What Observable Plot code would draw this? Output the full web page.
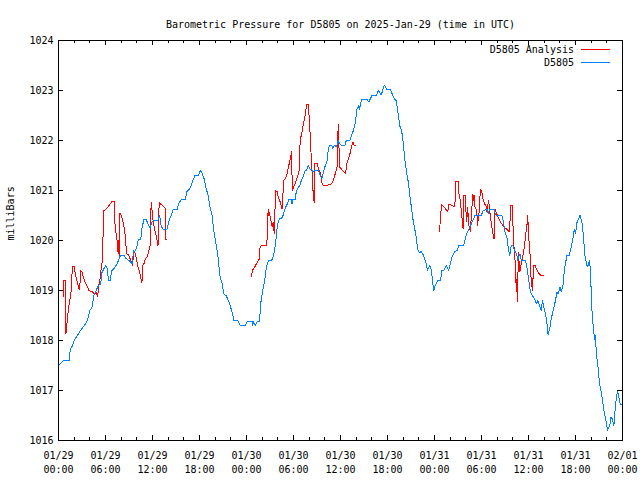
<!DOCTYPE html>
<html>
<head>
<meta charset="utf-8">
<script src="https://cdn.jsdelivr.net/npm/d3@7"></script>
<script src="https://cdn.jsdelivr.net/npm/@observablehq/plot@0.6"></script>
<style>
  html, body { margin: 0; padding: 0; background: #fff; }
  svg text { font-family: "DejaVu Sans Mono", "Liberation Mono", monospace; }
</style>
</head>
<body>
<div id="chart"></div>
<script>
// ---- Data (hours since 2025-01-29 00:00 UTC, pressure in mbar) ----
const titleText = "Barometric Pressure for D5805 on 2025-Jan-29 (time in UTC)";
const yLabel = "milliBars";
const seriesNames = ["D5805 Analysis", "D5805"];
const seriesColors = ["#ff0000", "#0080ff"];

const blueHours = [0,0.6,1.4,1.5,1.8,2.0,2.4,2.8,3.3,3.7,4.0,4.3,4.5,4.8,5.1,5.4,5.5,5.8,6.05,6.2,6.4,6.6,6.8,7.1,7.5,7.9,8.4,8.6,9.0,9.4,9.6,9.7,10.0,10.2,10.5,10.65,10.9,11.2,11.4,11.7,11.9,12.2,12.7,12.9,13.1,13.3,13.9,14.05,14.3,14.65,15.2,15.3,15.7,16.2,16.35,16.7,16.95,17.2,17.45,17.9,18.1,18.3,18.6,18.8,19.1,19.3,19.6,19.85,20.1,20.35,20.6,20.9,21.1,21.4,21.6,21.9,22.15,22.4,22.9,23.2,23.85,24.1,24.7,24.8,24.9,25.15,25.4,25.7,25.75,25.9,26.1,26.3,26.45,26.6,26.8,27.2,27.4,27.55,27.7,27.9,28.05,28.2,28.5,28.7,28.9,29.2,29.4,29.7,29.8,29.9,30.2,30.3,30.5,30.8,31.0,31.3,31.5,31.7,31.9,32.05,32.3,32.5,32.7,33.2,33.3,33.4,33.6,33.7,34.0,34.3,34.45,34.6,34.9,35.0,35.2,35.5,35.7,35.9,36.1,36.6,36.75,37.2,37.35,37.6,37.85,37.95,38.1,38.3,38.4,38.7,39.4,39.6,39.8,40.05,40.6,40.8,41.0,41.2,41.6,41.85,42.4,42.6,42.9,43.1,43.4,43.55,43.8,44.0,44.2,44.4,44.65,44.8,45.1,45.3,45.6,45.85,46.1,46.3,46.6,46.9,47.1,47.4,47.6,47.8,47.9,48.1,48.4,48.8,48.9,49.2,49.5,49.8,50.0,50.3,50.6,50.9,51.1,51.7,52.0,52.2,52.4,52.6,52.9,53.2,54.0,54.2,54.7,54.9,55.0,55.6,55.8,56.6,56.75,57.0,57.3,57.4,57.6,57.8,58.0,58.2,58.5,58.6,58.9,59.1,59.6,59.8,60.0,60.25,60.5,60.75,60.9,61.0,61.2,61.4,61.6,61.8,61.9,62.2,62.4,62.5,62.7,62.9,63.1,63.4,63.65,63.8,64.0,64.2,64.4,64.6,64.9,65.2,65.45,65.7,65.85,66.0,66.2,66.5,66.6,66.85,67.0,67.2,67.5,67.6,67.8,67.9,68.1,68.3,68.45,68.5,68.75,68.9,69.05,69.35,69.6,69.85,70.1,70.4,70.5,70.7,70.9,71.1,71.35,71.5,71.7,72.0];
const bluePressure = [1017.5,1017.6,1017.6,1017.83,1017.9,1018.0,1018.1,1018.2,1018.3,1018.4,1018.6,1018.67,1018.9,1019.0,1019.1,1019.13,1019.34,1019.44,1019.5,1019.44,1019.2,1019.2,1019.4,1019.44,1019.54,1019.7,1019.7,1019.64,1019.6,1019.54,1019.8,1019.77,1019.87,1020.02,1020.02,1020.24,1020.42,1020.42,1020.34,1020.24,1020.37,1020.4,1020.4,1020.5,1020.3,1020.23,1020.23,1020.37,1020.47,1020.62,1020.62,1020.73,1020.82,1020.82,1020.97,1021.03,1021.1,1021.22,1021.31,1021.31,1021.4,1021.36,1021.23,1021.07,1020.9,1020.7,1020.5,1020.17,1019.93,1019.7,1019.3,1019.13,1018.93,1018.9,1018.83,1018.71,1018.57,1018.4,1018.4,1018.3,1018.3,1018.39,1018.39,1018.3,1018.37,1018.3,1018.39,1018.39,1018.67,1018.83,1019.03,1019.17,1019.37,1019.5,1019.6,1019.6,1019.67,1019.77,1019.93,1020.23,1020.37,1020.43,1020.45,1020.51,1020.63,1020.73,1020.82,1020.82,1020.73,1020.82,1020.82,1020.93,1021.03,1021.1,1021.2,1021.3,1021.41,1021.41,1021.51,1021.43,1021.43,1021.37,1021.41,1021.41,1021.35,1021.31,1021.23,1021.3,1021.47,1021.6,1021.83,1021.91,1021.91,1021.83,1021.9,1021.88,1022.0,1021.93,1021.91,1021.91,1022.01,1022.01,1022.07,1022.18,1022.33,1022.43,1022.62,1022.7,1022.62,1022.82,1022.82,1022.77,1022.83,1022.91,1022.91,1023.0,1022.97,1022.91,1023.11,1023.03,1023.02,1022.93,1022.83,1022.8,1022.5,1022.3,1022.2,1021.97,1021.63,1021.4,1021.17,1020.97,1020.6,1020.37,1020.13,1019.83,1019.75,1019.78,1019.7,1019.57,1019.4,1019.5,1019.4,1019.13,1019.0,1019.1,1019.2,1019.2,1019.4,1019.4,1019.5,1019.4,1019.53,1019.7,1019.78,1019.8,1019.9,1019.9,1020.07,1020.17,1020.23,1020.3,1020.4,1020.51,1020.51,1020.6,1020.62,1020.53,1020.62,1020.62,1020.51,1020.51,1020.4,1020.17,1020.03,1019.87,1019.7,1019.9,1019.9,1019.8,1019.73,1019.6,1019.73,1019.6,1019.6,1019.47,1019.23,1018.97,1018.9,1018.83,1018.78,1018.73,1018.8,1018.7,1018.6,1018.8,1018.7,1018.5,1018.3,1018.11,1018.23,1018.43,1018.57,1018.77,1018.97,1018.93,1019.07,1018.97,1019.11,1019.43,1019.7,1019.7,1019.87,1020.07,1020.23,1020.13,1020.37,1020.47,1020.51,1020.33,1020.1,1019.7,1019.47,1019.5,1019.6,1019.4,1018.6,1018.2,1018.02,1018.1,1017.63,1017.43,1017.17,1016.9,1016.63,1016.43,1016.2,1016.33,1016.47,1016.43,1016.3,1016.7,1017.0,1016.9,1016.73,1016.73];

// null marks a gap in the analysis series
const redHours = [0.6,0.65,0.85,0.86,1.0,1.1,1.3,1.45,1.6,1.7,1.8,2.0,2.1,2.3,2.5,2.65,2.75,2.8,3.0,3.15,3.4,3.7,3.9,4.35,4.6,4.85,5.0,5.1,5.3,5.4,5.55,5.6,5.8,5.9,6.1,6.4,6.6,6.8,7.1,7.15,7.3,7.5,7.6,7.65,7.75,7.85,8.0,8.2,8.35,8.5,8.7,8.9,9.1,9.3,9.45,9.6,9.75,9.95,10.1,10.3,10.45,10.65,10.75,10.9,11.1,11.3,11.5,11.7,11.75,11.85,11.9,12.0,12.1,12.25,12.45,12.6,12.7,12.85,13.0,13.3,13.6,13.7,13.85,
  14.0,
  24.65,24.75,24.9,25.15,25.4,25.6,25.65,25.85,26.2,26.6,26.7,26.8,26.85,26.9,27.1,27.3,27.4,27.55,27.6,27.7,27.9,28.05,28.3,28.55,28.65,28.75,29.0,29.2,29.35,29.5,29.65,29.75,29.85,30.0,30.2,30.4,30.7,30.8,30.85,31.0,31.2,31.4,31.55,31.7,31.9,32.1,32.2,32.3,32.4,32.55,32.65,32.7,33.0,33.2,33.4,33.5,33.6,33.8,34.2,34.4,34.8,35.0,35.2,35.4,35.55,35.6,35.7,35.8,35.9,36.15,36.4,36.65,36.8,37.0,37.2,37.4,37.6,37.75,37.9,
  38.0,
  48.65,48.75,48.9,49.2,49.4,49.7,49.85,50.1,50.4,50.6,50.7,51.0,51.05,51.2,51.4,51.5,51.55,51.65,51.7,51.9,52.0,52.1,52.25,52.3,52.4,52.6,52.65,52.9,53.0,53.05,53.1,53.3,53.45,53.5,53.6,53.7,53.8,53.9,54.1,54.2,54.4,54.6,54.7,54.8,54.9,55.0,55.05,55.1,55.3,55.5,55.6,55.7,55.85,56.1,56.3,56.6,56.85,57.2,57.4,57.6,57.7,57.9,58.0,58.1,58.3,58.45,58.5,58.6,58.7,58.75,58.85,58.9,59.1,59.3,59.5,59.6,59.8,59.9,60.0,60.1,60.25,60.3,60.5,60.55,60.6,60.7,60.9,61.0,61.3,61.6,61.95];
const redPressure = [1018.87,1019.2,1019.2,1018.13,1018.17,1018.37,1018.67,1018.8,1018.97,1019.27,1019.48,1019.48,1019.37,1019.23,1019.1,1019.02,1019.15,1019.4,1019.37,1019.27,1019.17,1019.07,1019.0,1018.97,1018.93,1018.95,1018.87,1019.07,1019.23,1019.38,1019.53,1019.67,1020.6,1020.6,1020.63,1020.69,1020.73,1020.78,1020.78,1020.43,1020.2,1019.97,1019.77,1020.0,1019.63,1020.55,1020.5,1020.4,1020.29,1020.13,1019.73,1019.72,1019.65,1019.57,1019.5,1019.78,1019.77,1019.63,1019.5,1019.4,1019.3,1019.15,1019.5,1019.53,1019.63,1019.67,1019.77,1019.9,1020.47,1020.77,1020.67,1020.5,1020.37,1020.23,1020.1,1020.0,1019.89,1020.77,1020.73,1020.7,1020.65,1020.02,1020.02,
  null,
  1019.27,1019.43,1019.43,1019.5,1019.57,1019.62,1019.83,1019.89,1019.9,1019.91,1020.47,1020.63,1020.5,1020.57,1020.4,1020.27,1020.37,1020.13,1020.37,1021.0,1020.98,1020.87,1020.77,1020.63,1020.91,1021.2,1021.25,1021.35,1021.47,1021.57,1021.67,1021.78,1021.0,1021.07,1021.13,1021.23,1021.37,1021.7,1022.03,1022.1,1022.27,1022.43,1022.57,1022.73,1022.73,1022.2,1021.83,1021.63,1021.23,1020.85,1020.75,1021.55,1021.55,1021.43,1021.37,1021.3,1021.17,1021.09,1021.1,1021.11,1021.13,1021.17,1021.27,1021.37,1021.47,1021.57,1022.33,1021.9,1021.47,1021.42,1021.38,1021.33,1021.53,1021.63,1021.73,1021.87,1021.97,1021.9,1021.9,
  null,
  1020.17,1020.45,1020.71,1020.68,1020.63,1020.58,1020.73,1020.71,1020.69,1020.67,1021.19,1021.19,1020.97,1020.9,1020.63,1020.47,1020.37,1020.23,1020.9,1020.9,1020.63,1020.37,1020.67,1020.47,1020.3,1020.17,1020.37,1020.93,1020.8,1020.9,1020.7,1020.63,1020.47,1020.3,1020.47,1020.57,1020.87,1021.02,1020.93,1020.83,1020.73,1020.69,1020.57,1020.7,1020.8,1020.67,1020.63,1020.51,1020.3,1020.1,1020.03,1020.63,1020.57,1020.47,1020.4,1020.33,1020.27,1020.23,1020.2,1020.17,1020.71,1020.71,1020.37,1019.97,1019.57,1018.97,1019.23,1018.77,1019.77,1019.37,1019.57,1019.37,1019.57,1019.7,1019.9,1020.07,1020.3,1020.5,1020.17,1019.9,1019.63,1019.3,1019.0,1019.17,1019.3,1019.51,1019.5,1019.43,1019.35,1019.3,1019.3];

// ---- Axis ticks ----
const xDomain = [0, 72];
const yDomain = [1016, 1024];
const xMajorTicks = [0, 6, 12, 18, 24, 30, 36, 42, 48, 54, 60, 66, 72];
const xTickDates = ["01/29","01/29","01/29","01/29","01/30","01/30","01/30","01/30","01/31","01/31","01/31","01/31","02/01"];
const xTickTimes = ["00:00","06:00","12:00","18:00","00:00","06:00","12:00","18:00","00:00","06:00","12:00","18:00","00:00"];
const xMinorTicks = d3.range(0, 73, 2).filter(h => h % 6 !== 0);
const yTicks = [1016, 1017, 1018, 1019, 1020, 1021, 1022, 1023, 1024];

// ---- Build tables ----
const blue = blueHours.map((h, i) => ({h, p: bluePressure[i]}));
const red = redHours.map((h, i) => ({h, p: redPressure[i]}));
const xMajor = xMajorTicks.map((h, i) => ({h, date: xTickDates[i], time: xTickTimes[i]}));

const FONT = '"DejaVu Sans Mono", "Liberation Mono", monospace';
const crisp = {shapeRendering: "crispEdges"};

// Legend drawn relative to the frame
function legend(index, scales, values, dim) {
  const g = d3.create("svg:g");
  const right = dim.width - dim.marginRight;
  seriesNames.forEach((name, i) => {
    const y = dim.marginTop + 9.5 + i * 13;
    g.append("text")
      .attr("x", right - 48).attr("y", y)
      .attr("text-anchor", "end").attr("dy", "0.32em")
      .attr("font-family", FONT).attr("font-size", 10).attr("fill", "black")
      .text(name);
    g.append("line")
      .attr("x1", right - 41).attr("x2", right - 12)
      .attr("y1", y).attr("y2", y)
      .attr("stroke", seriesColors[i]).attr("stroke-width", 1)
      .attr("shape-rendering", "crispEdges");
  });
  return g.node();
}

const plot = Plot.plot({
  width: 640,
  height: 480,
  marginLeft: 58,
  marginRight: 18,
  marginTop: 40,
  marginBottom: 40,
  style: {fontFamily: FONT, fontSize: "10px", background: "white", color: "black"},
  x: {domain: xDomain, axis: null},
  y: {domain: yDomain, axis: null},
  marks: [
    // data
    Plot.line(red, {x: "h", y: "p", stroke: seriesColors[0], strokeWidth: 1, ...crisp}),
    Plot.line(blue, {x: "h", y: "p", stroke: seriesColors[1], strokeWidth: 1, ...crisp}),
    // frame
    Plot.frame({stroke: "black", strokeWidth: 1, ...crisp}),
    // x ticks (bottom & top, inward)
    Plot.ruleX(xMajorTicks, {x: d => d, y1: 1016, y2: 1016, insetBottom: 5, stroke: "black", ...crisp}),
    Plot.ruleX(xMajorTicks, {x: d => d, y1: 1024, y2: 1024, insetBottom: -5, stroke: "black", ...crisp}),
    Plot.ruleX(xMinorTicks, {x: d => d, y1: 1016, y2: 1016, insetBottom: 3, stroke: "black", ...crisp}),
    Plot.ruleX(xMinorTicks, {x: d => d, y1: 1024, y2: 1024, insetBottom: -3, stroke: "black", ...crisp}),
    // y ticks (left & right, inward)
    Plot.ruleY(yTicks, {y: d => d, x1: 0, x2: 0, insetRight: -5, stroke: "black", ...crisp}),
    Plot.ruleY(yTicks, {y: d => d, x1: 72, x2: 72, insetLeft: -5, stroke: "black", ...crisp}),
    // tick labels
    Plot.text(yTicks, {x: 0, y: d => d, text: d => String(d), textAnchor: "end", dx: -5, fill: "black"}),
    Plot.text(xMajor, {x: "h", y: 1016, text: "date", dy: 15, fill: "black"}),
    Plot.text(xMajor, {x: "h", y: 1016, text: "time", dy: 29, fill: "black"}),
    // title
    Plot.text([titleText], {frameAnchor: "top", dy: -20, fill: "black"}),
    // y label
    Plot.text([yLabel], {frameAnchor: "left", dx: -48, rotate: -90, fill: "black"}),
    // legend
    legend
  ]
});

document.getElementById("chart").appendChild(plot);
</script>
</body>
</html>
